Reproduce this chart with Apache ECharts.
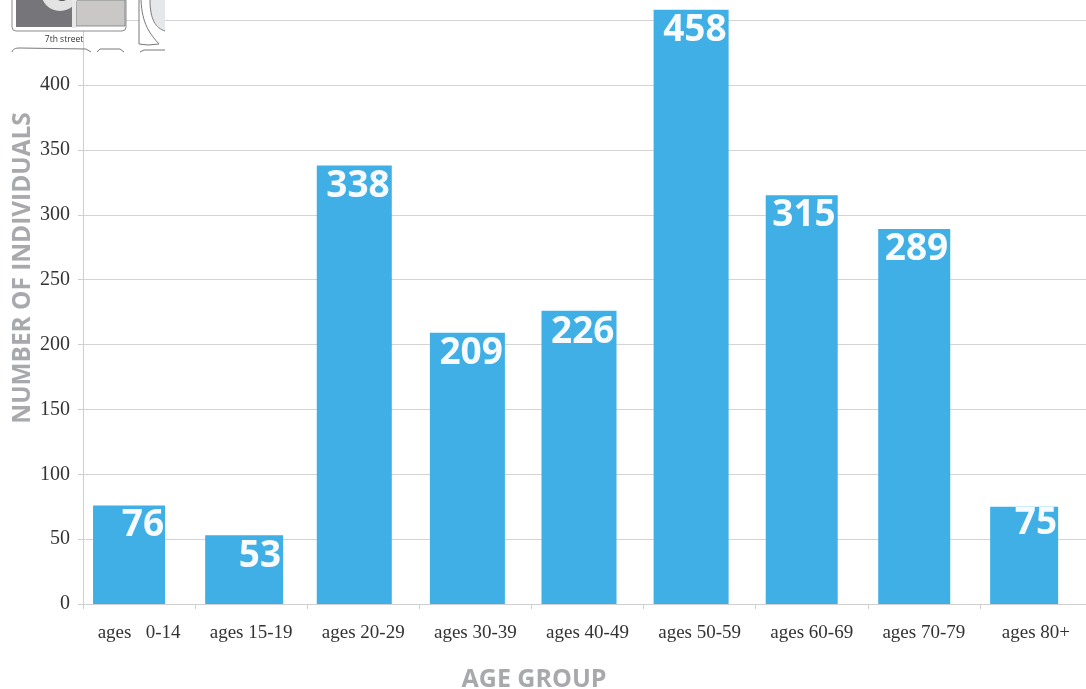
<!DOCTYPE html>
<html>
<head>
<meta charset="utf-8">
<style>html,body{margin:0;padding:0;background:#fff}#chart{width:1086px;height:689px}</style>
<script src="https://cdn.jsdelivr.net/npm/echarts@6/dist/echarts.min.js"></script>
</head>
<body>
<div id="chart"></div>
<script>
// Number of individuals in each age group
const ageGroups = ['ages   0-14', 'ages 15-19', 'ages 20-29', 'ages 30-39', 'ages 40-49', 'ages 50-59', 'ages 60-69', 'ages 70-79', 'ages 80+'];
const individuals = [76, 53, 338, 209, 226, 458, 315, 289, 75];

// Hand-set bar widths and shifts from the category centre, in px
const barWidths = [72, 78, 75, 75, 75, 75, 72, 72, 68];
const barShifts = [-10, -7, -9, -8, -8.5, -8.5, -10, -9.6, -11.8];
const labelDrops = [3, 4, 4, 3, 4, 3, 3, 3, -1];
const labelInsets = [1, 2, 2, 2, 2, 2, 2, 2, 1];

const GREY_TITLE = '#a7a9ac';
const serif = '"Liberation Serif", serif';
const sans = '"Open Sans", sans-serif';

// Small street-plan fragment in the upper left corner
const insetLine = { stroke: '#77787b', fill: null, lineWidth: 1 };
const outline = (points, z = 13) => ({ type: 'polyline', shape: { points }, style: insetLine, z });
const curve = (x1, y1, cpx1, cpy1, cpx2, cpy2, x2, y2) => ({
  type: 'bezierCurve', shape: { x1, y1, cpx1, cpy1, cpx2, cpy2, x2, y2 }, style: insetLine, z: 13
});
const streetPlan = [
  { type: 'rect', shape: { x: 84, y: 28, width: 81, height: 24 }, style: { fill: '#fff' }, z: 10 },
  { type: 'rect', shape: { x: 139, y: 0, width: 26, height: 52 }, style: { fill: '#fff' }, z: 10 },
  { type: 'rect', shape: { x: 12, y: -10, width: 114, height: 41, r: 4 }, style: { fill: '#fff', stroke: '#8a8b8e', lineWidth: 1 }, z: 11 },
  { type: 'rect', shape: { x: 16, y: 0, width: 56, height: 27 }, style: { fill: '#76767a' }, z: 12 },
  { type: 'rect', shape: { x: 76, y: 0, width: 49, height: 26 }, style: { fill: '#c9c8c6', stroke: '#77787b', lineWidth: 0.8 }, z: 12 },
  { type: 'circle', shape: { cx: 60, cy: -8, r: 19 }, style: { fill: '#e3e3e3' }, z: 13 },
  { type: 'circle', shape: { cx: 62, cy: -7, r: 8 }, style: { fill: '#4a4a4c' }, z: 14 },
  { type: 'rect', shape: { x: 72, y: 0, width: 4, height: 28 }, style: { fill: '#e8e8e8' }, z: 13 },
  { type: 'polygon', shape: { points: [[150, 0], [151, 12], [154, 21], [159, 27], [165, 31], [165, 0]] }, style: { fill: '#e6e7e8' }, z: 12 },
  curve(150, 0, 150, 20, 156, 28, 165, 31),
  outline([[139, 0], [139, 44], [148, 45], [159, 44]]),
  curve(159, 44, 150, 34, 142, 24, 141, 0),
  curve(12, 52, 13, 49, 15, 48, 20, 48),
  outline([[20, 48], [86, 49], [91, 52]]),
  outline([[97, 52], [100, 49], [120, 49], [124, 52]]),
  outline([[140, 52], [144, 50], [165, 50]]),
  { type: 'text', x: 64, y: 39.5, style: { text: '7th street', font: '8.5px ' + sans, fill: '#333', textAlign: 'center', textVerticalAlign: 'middle' }, z: 14 }
];

const axisTitles = [
  { type: 'text', x: 534, y: 680, style: { text: 'AGE GROUP', font: 'bold 25px ' + sans, fill: GREY_TITLE, textAlign: 'center', textVerticalAlign: 'middle' } },
  { type: 'text', x: 23, y: 268, rotation: Math.PI / 2, style: { text: 'NUMBER OF INDIVIDUALS', font: 'bold 24.4px ' + sans, fill: GREY_TITLE, textAlign: 'center', textVerticalAlign: 'middle' } }
];

const chart = echarts.init(document.getElementById('chart'), null, { renderer: 'canvas' });

chart.setOption({
  animation: false,
  backgroundColor: '#fff',
  grid: { left: 83, top: -44.75, width: 1009, height: 648.75, containLabel: false, outerBoundsMode: 'none' },
  xAxis: {
    type: 'category',
    data: ageGroups,
    axisLine: { show: true, lineStyle: { color: '#cfcfcf', width: 1 } },
    axisTick: { show: true, length: 5, lineStyle: { color: '#cfcfcf' } },
    axisLabel: { interval: 0, margin: 20, fontFamily: serif, fontSize: 19, color: '#333' }
  },
  yAxis: {
    type: 'value',
    min: 0,
    max: 500,
    interval: 50,
    axisLine: { show: true, lineStyle: { color: '#cfcfcf', width: 1 } },
    axisTick: { show: true, length: 5, lineStyle: { color: '#cfcfcf' } },
    axisLabel: { margin: 13, padding: [6, 0, 0, 0], fontFamily: serif, fontSize: 20, color: '#333' },
    splitLine: { show: true, lineStyle: { color: '#d4d4d4', width: 1 } }
  },
  graphic: { elements: axisTitles.concat(streetPlan) },
  series: [{
    type: 'custom',
    clip: false,
    data: individuals.map((v, i) => [i, v]),
    encode: { x: 0, y: 1 },
    renderItem(params, api) {
      const i = api.value(0);
      const value = api.value(1);
      const top = api.coord([i, value]);
      const base = api.coord([i, 0]);
      const w = barWidths[i];
      const left = top[0] + barShifts[i] - w / 2;
      return {
        type: 'group',
        children: [
          { type: 'rect', shape: { x: left, y: top[1], width: w, height: base[1] - top[1] }, style: { fill: '#3fafe5' } },
          { type: 'text', x: left + w - labelInsets[i], y: top[1] + labelDrops[i] - 1,
            style: { text: String(value), font: 'bold 37px ' + sans, fill: '#f7fbfe', textAlign: 'right', textVerticalAlign: 'top' } }
        ]
      };
    }
  }]
});
</script>
</body>
</html>
